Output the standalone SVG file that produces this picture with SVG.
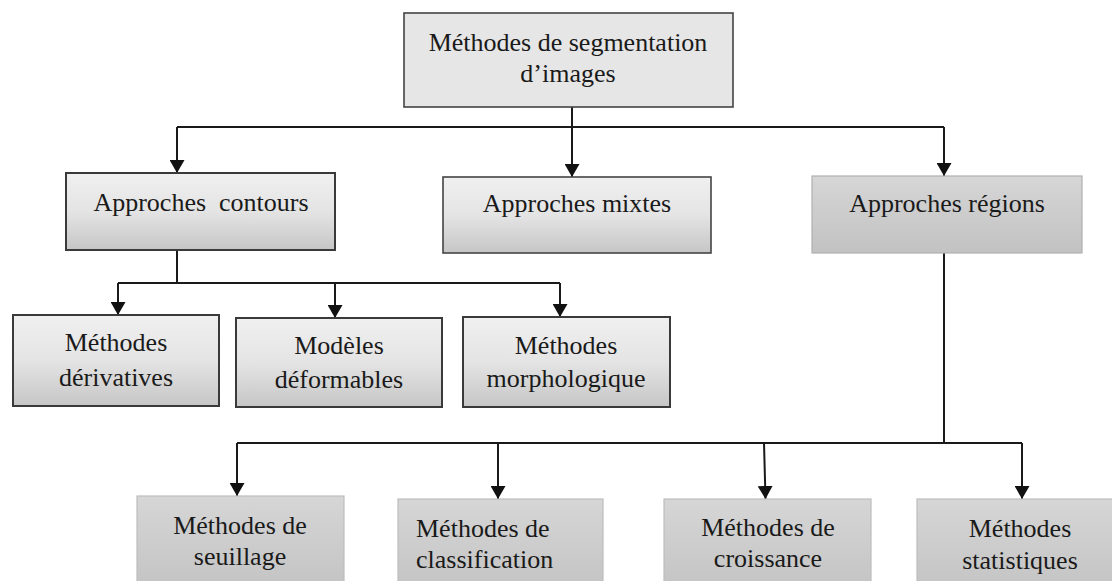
<svg xmlns="http://www.w3.org/2000/svg" width="1112" height="581" viewBox="0 0 1112 581">
<style>
text{font-family:"Liberation Serif","Times New Roman",serif;font-size:26px;fill:#1a1a1a;text-anchor:middle}
.top{fill:#e6e6e6;stroke:#444;stroke-width:1.6}
.mid{fill:url(#gmid);stroke:#3a3a3a;stroke-width:2}
.reg{fill:url(#greg);stroke:#b0b0b0;stroke-width:1.2}
.bot{fill:url(#gbot);stroke:#bdbdbd;stroke-width:1.2}
.ln{fill:none;stroke:#1a1a1a;stroke-width:2}
.ar{fill:none;stroke:#1a1a1a;stroke-width:2;marker-end:url(#arr)}
</style>
<defs>
<linearGradient id="gmid" x1="0" y1="0" x2="0" y2="1">
<stop offset="0" stop-color="#f0f0f0"/><stop offset="0.5" stop-color="#e4e4e4"/><stop offset="1" stop-color="#c6c6c6"/>
</linearGradient>
<linearGradient id="greg" x1="0" y1="0" x2="0" y2="1">
<stop offset="0" stop-color="#d6d6d6"/><stop offset="1" stop-color="#c2c2c2"/>
</linearGradient>
<linearGradient id="gbot" x1="0" y1="0" x2="0" y2="1">
<stop offset="0" stop-color="#d6d6d6"/><stop offset="1" stop-color="#c4c4c4"/>
</linearGradient>
<marker id="arr" markerUnits="userSpaceOnUse" markerWidth="16" markerHeight="15" refX="13" refY="7.5" orient="auto" viewBox="0 0 16 15">
<path d="M0,0 L13,7.5 L0,15 Z" fill="#111"/>
</marker>
</defs>

<g id="connectors">
<path class="ln" d="M572,107 V127 M177,127 H944"/>
<path class="ar" d="M177,127 V173"/>
<path class="ar" d="M572,127 V177"/>
<path class="ar" d="M944,127 V176"/>
<path class="ln" d="M177,250 V283 M118,283 H560"/>
<path class="ar" d="M118,283 V315"/>
<path class="ar" d="M335,283 V318"/>
<path class="ar" d="M560,283 V317"/>
<path class="ln" d="M944,253 V443 M237,443 H1022"/>
<path class="ar" d="M237,443 V496"/>
<path class="ar" d="M498,443 V499"/>
<path class="ar" d="M764,443 L765.5,499"/>
<path class="ar" d="M1022,443 V499"/>
</g>

<g id="n-root">
<rect class="top" x="404" y="13" width="329" height="94"/>
<text x="568" y="51">Méthodes de segmentation</text>
<text x="568" y="82">d’images</text>
</g>

<g id="n-contours">
<rect class="mid" x="66" y="173" width="269" height="77"/>
<text x="201" y="211" xml:space="preserve">Approches  contours</text>
</g>

<g id="n-mixtes">
<rect class="mid" x="443" y="177" width="268" height="76" style="stroke-width:1.6;stroke:#444"/>
<text x="577" y="212">Approches mixtes</text>
</g>

<g id="n-regions">
<rect class="reg" x="812" y="176" width="270" height="77"/>
<text x="947" y="212">Approches régions</text>
</g>

<g id="n-derivatives">
<rect class="mid" x="13" y="315" width="206" height="91"/>
<text x="116" y="351">Méthodes</text>
<text x="116" y="386">dérivatives</text>
</g>

<g id="n-deformables">
<rect class="mid" x="236" y="318" width="206" height="89"/>
<text x="339" y="354">Modèles</text>
<text x="339" y="388">déformables</text>
</g>

<g id="n-morpho">
<rect class="mid" x="463" y="317" width="207" height="90"/>
<text x="566" y="354">Méthodes</text>
<text x="566" y="387">morphologique</text>
</g>

<g id="n-seuillage">
<rect class="bot" x="137" y="496" width="207" height="90"/>
<text x="240" y="534">Méthodes de</text>
<text x="240" y="565">seuillage</text>
</g>

<g id="n-classification">
<rect class="bot" x="398" y="499" width="205" height="90"/>
<text x="416" y="537" style="text-anchor:start">Méthodes de</text>
<text x="416" y="568" style="text-anchor:start">classification</text>
</g>

<g id="n-croissance">
<rect class="bot" x="664" y="499" width="207" height="90"/>
<text x="768" y="536">Méthodes de</text>
<text x="768" y="567">croissance</text>
</g>

<g id="n-statistiques">
<rect class="bot" x="917" y="499" width="205" height="90"/>
<text x="1020" y="537">Méthodes</text>
<text x="1020" y="569">statistiques</text>
</g>
</svg>
